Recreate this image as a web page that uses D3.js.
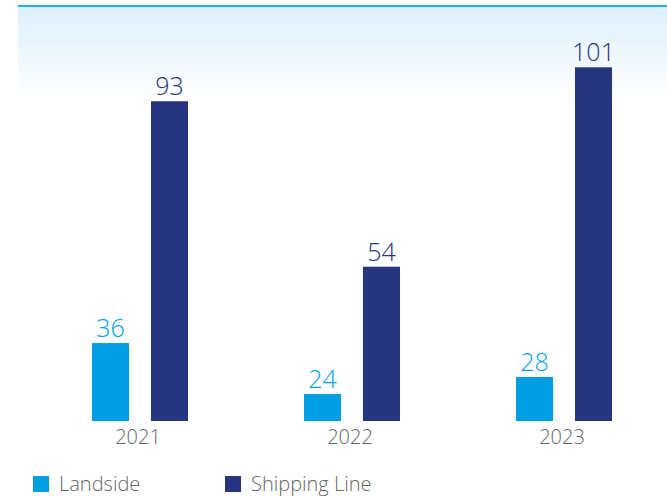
<!DOCTYPE html>
<html>

<head>
  <meta charset="utf-8" />
  <title>Landside vs Shipping Line</title>
  <style>
    body {
      margin: 0;
      background: #fff;
    }

    text {
      font-family: "Open Sans", sans-serif;
    }
  </style>
  <script src="https://cdnjs.cloudflare.com/ajax/libs/d3/7.8.5/d3.min.js"></script>
</head>

<body>
  <div id="chartArea"></div>
  <script>
    var years = ['2021', '2022', '2023'];
    var seriesNames = ['Landside', 'Shipping Line'];
    var landside = [36, 24, 28];
    var shippingLine = [93, 54, 101];
    var colors = ['#009fe3', '#27347f'];

    var w = 667,
      h = 496;

    var svg = d3.select('#chartArea').append('svg')
      .attr('width', w)
      .attr('height', h);

    // light gradient band at the top
    var defs = svg.append('defs');
    var grad = defs.append('linearGradient')
      .attr('id', 'topFade')
      .attr('x1', 0).attr('y1', 0).attr('x2', 0).attr('y2', 1);
    grad.append('stop').attr('offset', '0%').attr('stop-color', '#dceffb');
    grad.append('stop').attr('offset', '100%').attr('stop-color', '#ffffff');

    svg.append('rect')
      .attr('x', 18).attr('y', 6)
      .attr('width', w - 18).attr('height', 95)
      .attr('fill', 'url(#topFade)');

    svg.append('line')
      .attr('x1', 18).attr('x2', w)
      .attr('y1', 6).attr('y2', 6)
      .attr('stroke', '#1fb1ec')
      .attr('stroke-width', 2);

    var x0 = d3.scaleBand()
      .domain(years)
      .range([34, 670]);

    var x1 = d3.scaleBand()
      .domain(seriesNames)
      .range([-48, 48])
      .paddingInner(0.373);

    // baseline sits above zero in the original
    var y = d3.scaleLinear()
      .domain([17.63, 101])
      .range([421, 67.3]);

    var rows = years.map(function (yr, i) {
      return {
        year: yr,
        values: [
          { name: seriesNames[0], value: landside[i], color: colors[0] },
          { name: seriesNames[1], value: shippingLine[i], color: colors[1] }
        ]
      };
    });

    var groups = svg.selectAll('g.group')
      .data(rows)
      .enter()
      .append('g')
      .attr('class', 'group')
      .attr('transform', d => 'translate(' + (x0(d.year) + x0.bandwidth() / 2) + ',0)');

    groups.selectAll('rect')
      .data(d => d.values)
      .enter()
      .append('rect')
      .attr('x', d => x1(d.name))
      .attr('y', d => y(d.value))
      .attr('width', x1.bandwidth())
      .attr('height', d => y.range()[0] - y(d.value))
      .attr('fill', d => d.color);

    groups.selectAll('text.val')
      .data(d => d.values)
      .enter()
      .append('text')
      .attr('class', 'val')
      .attr('x', d => x1(d.name) + x1.bandwidth() / 2)
      .attr('y', d => y(d.value) - 6)
      .attr('text-anchor', 'middle')
      .attr('font-size', 25)
      .attr('font-weight', 300)
      .attr('fill', d => d.color)
      .text(d => d.value);

    // year labels
    groups.append('text')
      .attr('x', -2)
      .attr('y', 444)
      .attr('text-anchor', 'middle')
      .attr('font-size', 20)
      .attr('font-weight', 300)
      .attr('fill', '#666')
      .text(d => d.year);

    // legend
    var legendX = [33, 225];
    var legend = svg.selectAll('g.legend')
      .data(seriesNames)
      .enter()
      .append('g')
      .attr('class', 'legend')
      .attr('transform', (d, i) => 'translate(' + legendX[i] + ',476)');

    legend.append('rect')
      .attr('width', 16)
      .attr('height', 16)
      .attr('fill', (d, i) => colors[i]);

    legend.append('text')
      .attr('x', 26)
      .attr('y', 15)
      .attr('font-size', 20)
      .attr('font-weight', 300)
      .attr('fill', '#666')
      .text(d => d);
  </script>
</body>

</html>
